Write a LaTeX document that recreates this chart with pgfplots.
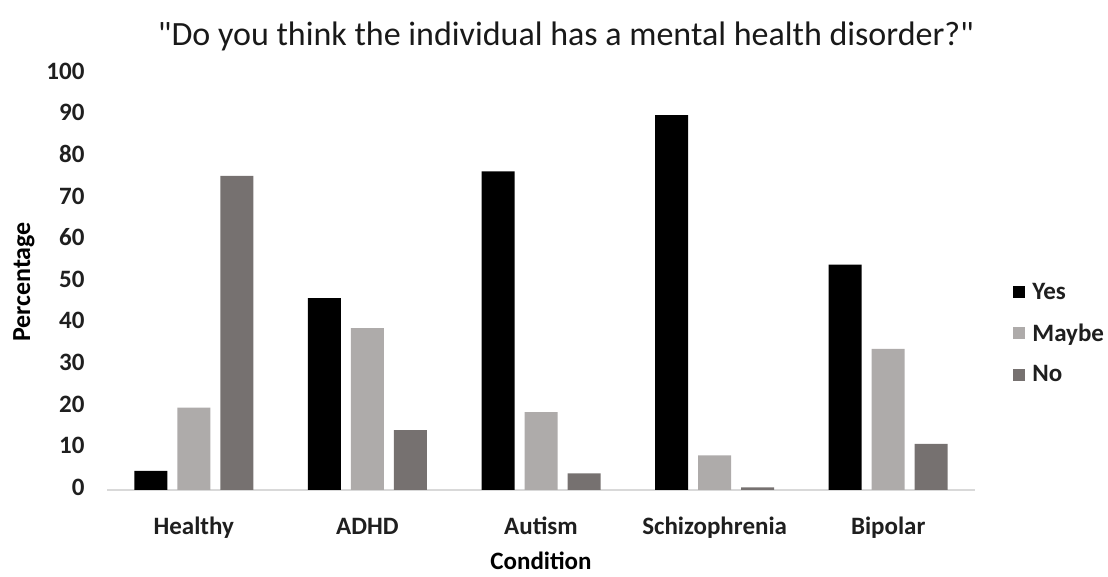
\documentclass[border=0pt]{standalone}
\usepackage{pgfplots}
\pgfplotsset{compat=1.18}
\usepackage{fontspec}
\setmainfont{Carlito}
\newfontfamily\titlefont{Carlito}[Ligatures=NoCommon]

\definecolor{yescol}{HTML}{000000}
\definecolor{maybecol}{HTML}{AEABAA}
\definecolor{nocol}{HTML}{767170}
\definecolor{axiscol}{HTML}{D9D9D9}

\begin{document}
\begin{tikzpicture}[x=1pt,y=1pt]
\path[use as bounding box] (0,0) rectangle (1108,577);
\begin{axis}[
  at={(107pt,87pt)}, anchor=south west,
  scale only axis,
  width=868pt, height=416pt,
  ybar=10pt, bar width=33pt,
  xmin=-0.5, xmax=4.5,
  ymin=0, ymax=100,
  xtick={0,1,2,3,4},
  xticklabels={Healthy,ADHD,Autism,Schizophrenia,Bipolar},
  ytick={0,10,...,100},
  axis x line*=bottom,
  axis y line*=left,
  y axis line style={draw=none},
  x axis line style={draw=axiscol, line width=1.3pt, -},
  major tick length=0pt,
  tick style={draw=none},
  typeset ticklabels with strut,
  /pgf/number format/assume math mode=true,
  ticklabel style={font=\fontsize{25}{27}\selectfont\bfseries, text=black!88},
  xticklabel style={yshift=-22pt},
  yticklabel style={xshift=-19pt},
  xlabel={Condition},
  xlabel style={font=\fontsize{25}{27}\selectfont\bfseries, yshift=-3pt},
  ylabel={Percentage},
  ylabel style={font=\fontsize{26}{28}\selectfont\bfseries, yshift=5pt},
  legend style={draw=none, at={(1.044,0.377)}, anchor=west,
    font=\fontsize{25}{27}\selectfont\bfseries, text=black!88,
    row sep=19pt, legend cell align=left, inner sep=0pt,
    /tikz/every odd column/.append style={column sep=5pt}},
  legend image code/.code={\fill[#1] (0pt,-6pt) rectangle (12pt,6pt);},
  clip=false,
]
\addplot[fill=yescol, draw=none] coordinates {(0,4.6) (1,46.1) (2,76.6) (3,90.1) (4,54.2)};
\addplot[fill=maybecol, draw=none] coordinates {(0,19.8) (1,38.9) (2,18.7) (3,8.3) (4,33.9)};
\addplot[fill=nocol, draw=none] coordinates {(0,75.5) (1,14.4) (2,4.0) (3,0.6) (4,11.1)};
\legend{Yes,Maybe,No}
\end{axis}
\node[font=\titlefont\fontsize{34}{37}\selectfont, text=black!90, anchor=center] at (566,541) {"Do you think the individual has a mental health disorder?"};
\end{tikzpicture}
\end{document}
